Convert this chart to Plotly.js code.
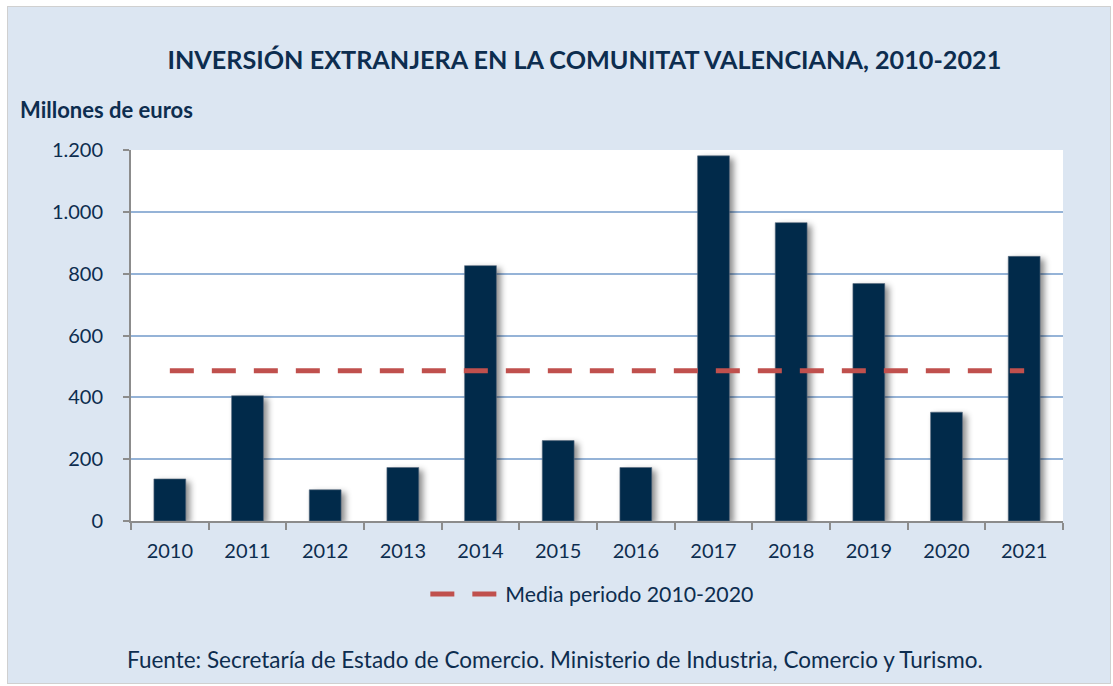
<!DOCTYPE html>
<html>
<head>
<meta charset="utf-8">
<script src="https://cdn.plot.ly/plotly-3.0.1.min.js"></script>
<style>
  html, body { margin: 0; padding: 0; background: #ffffff; }
  #chart { position: absolute; left: 7px; top: 6px; width: 1102px; height: 676px; border: 1px solid #D0D0D0; }
  #chart .barlayer .trace path { filter: drop-shadow(4px 3px 3px rgba(0,0,0,0.45)); }
</style>
</head>
<body>
<div id="chart"></div>
<script>
const years = ['2010','2011','2012','2013','2014','2015','2016','2017','2018','2019','2020','2021'];
const inversion = [136, 405, 101, 173, 826, 260, 173, 1181, 965, 768, 352, 856];
const media = [486, 486, 486, 486, 486, 486, 486, 486, 486, 486, 486, 486];
const yTicks = [0, 200, 400, 600, 800, 1000, 1200];

const navy = '#0D2D4F';
const fontFam = 'Lato, "Open Sans", "Liberation Sans", sans-serif';

const traces = [
  {
    type: 'bar', x: years, y: inversion, name: 'Inversión',
    marker: { color: '#012A4A', line: { color: '#5A6B80', width: 0.6 } },
    showlegend: false, hoverinfo: 'x+y'
  },
  {
    type: 'scatter', mode: 'lines', x: years, y: media,
    name: 'Media periodo 2010-2020',
    line: { color: '#C0504D', width: 5, dash: '24px,18px' }
  }
];

const layout = {
  width: 1102, height: 676,
  paper_bgcolor: '#DCE6F2', plot_bgcolor: '#FFFFFF',
  separators: ',.',
  margin: { l: 123, r: 47, t: 143, b: 162 },
  font: { family: fontFam, color: navy, size: 20 },
  title: {
    text: '<b>INVERSIÓN EXTRANJERA EN LA COMUNITAT VALENCIANA, 2010-2021</b>',
    font: { family: fontFam, size: 25.2, color: navy },
    x: 0.523, xanchor: 'center', y: 0.922, yanchor: 'middle'
  },
  bargap: 0.59,
  xaxis: {
    type: 'category', tickson: 'boundaries', ticks: 'outside', ticklen: 7,
    tickcolor: '#8C8C8C', tickwidth: 2, showline: true, linecolor: '#8C8C8C', linewidth: 2,
    showgrid: false, tickfont: { size: 20, color: navy }, fixedrange: true,
    ticklabelstandoff: 11
  },
  yaxis: {
    range: [0, 1200], tickvals: yTicks, tickformat: ',d',
    ticks: 'outside', ticklen: 6, tickcolor: '#8C8C8C', tickwidth: 2,
    showline: true, linecolor: '#8C8C8C', linewidth: 2,
    gridcolor: '#95B3D7', gridwidth: 2, zeroline: false,
    tickfont: { size: 20, color: navy }, fixedrange: true,
    ticklabelstandoff: 16
  },
  legend: {
    orientation: 'h', x: 0.495, xanchor: 'center', y: -0.197, yanchor: 'middle',
    bgcolor: 'rgba(0,0,0,0)', font: { size: 21.3, color: navy }, itemwidth: 70
  },
  annotations: [
    {
      text: '<b>Millones de euros</b>', xref: 'paper', yref: 'paper',
      x: -0.121, xanchor: 'left', y: 1.11, yanchor: 'middle', showarrow: false,
      font: { size: 22, color: navy, family: fontFam }
    },
    {
      text: 'Fuente: Secretaría de Estado de Comercio. Ministerio de Industria, Comercio y Turismo.',
      xref: 'paper', yref: 'paper', x: 0.455, xanchor: 'center', y: -0.372, yanchor: 'middle',
      showarrow: false, font: { size: 22.5, color: navy, family: fontFam }
    }
  ]
};

Plotly.newPlot('chart', traces, layout, { displayModeBar: false, staticPlot: true });
</script>
</body>
</html>
